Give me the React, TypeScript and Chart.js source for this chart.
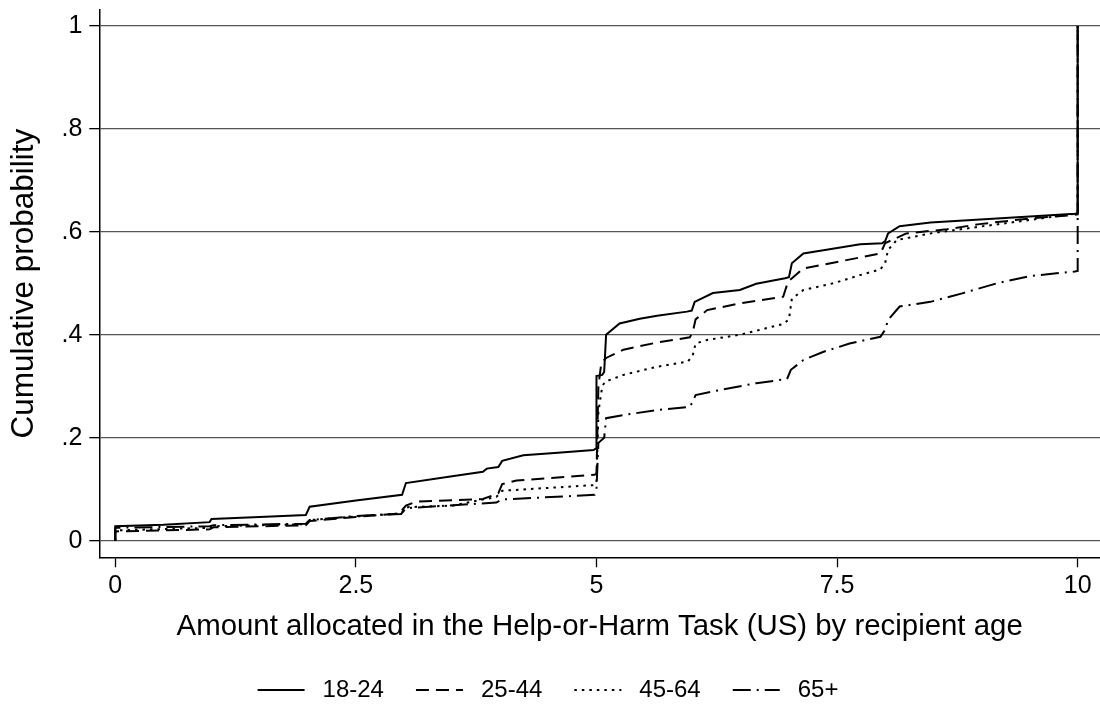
import React, { useEffect, useRef } from "react";
import { Chart, registerables } from "chart.js";

Chart.register(...registerables);

// ---------- data ----------
const seriesLabels = ["18-24", "25-44", "45-64", "65+"];

const xTicks = [0, 2.5, 5, 7.5, 10];
const xTickLabels = ["0", "2.5", "5", "7.5", "10"];
const yTicks = [0, 0.2, 0.4, 0.6, 0.8, 1];
const yTickLabels = ["0", ".2", ".4", ".6", ".8", "1"];

const xTitle = "Amount allocated in the Help-or-Harm Task (US) by recipient age";
const yTitle = "Cumulative probability";

const age18to24: [number, number][] = [
  [0, 0], [0, 0.028], [0.5, 0.031], [0.98, 0.036], [1.0, 0.042], [1.5, 0.046],
  [1.98, 0.05], [2.02, 0.066], [2.5, 0.078], [2.98, 0.089], [3.02, 0.112],
  [3.5, 0.125], [3.82, 0.134], [3.86, 0.14], [3.98, 0.143], [4.02, 0.155],
  [4.24, 0.166], [4.6, 0.171], [4.97, 0.176], [5.0, 0.18], [5.0, 0.32],
  [5.06, 0.322], [5.08, 0.328], [5.1, 0.4], [5.24, 0.422], [5.45, 0.431],
  [5.63, 0.437], [5.94, 0.445], [5.99, 0.447], [6.02, 0.464], [6.21, 0.481],
  [6.49, 0.487], [6.66, 0.499], [6.96, 0.51], [7.0, 0.512], [7.03, 0.539],
  [7.15, 0.558], [7.39, 0.565], [7.74, 0.576], [7.97, 0.578], [8.0, 0.582],
  [8.03, 0.597], [8.15, 0.611], [8.47, 0.618], [9.16, 0.626], [9.97, 0.635],
  [10, 0.636], [10, 1.0],
];

const age25to44: [number, number][] = [
  [0, 0], [0, 0.018], [0.5, 0.02], [0.98, 0.022], [1.02, 0.026], [1.5, 0.028],
  [1.98, 0.03], [2.02, 0.038], [2.5, 0.046], [2.95, 0.053], [3.02, 0.068],
  [3.13, 0.076], [3.82, 0.081], [3.98, 0.092], [4.02, 0.11], [4.17, 0.117],
  [4.98, 0.128], [5.0, 0.13], [5.02, 0.3], [5.05, 0.345], [5.1, 0.355],
  [5.28, 0.371], [5.63, 0.385], [5.97, 0.395], [6.0, 0.405], [6.03, 0.43],
  [6.15, 0.448], [6.49, 0.461], [6.94, 0.474], [6.99, 0.503], [7.15, 0.529],
  [7.46, 0.54], [7.95, 0.558], [8.0, 0.578], [8.22, 0.597], [8.64, 0.605],
  [8.98, 0.615], [9.5, 0.626], [9.97, 0.633], [10, 0.634], [10, 1.0],
];

const age45to64: [number, number][] = [
  [0, 0], [0, 0.02], [0.98, 0.025], [1.02, 0.028], [1.98, 0.032], [2.02, 0.04],
  [2.5, 0.047], [2.97, 0.053], [3.02, 0.065], [3.5, 0.068], [3.96, 0.085],
  [4.02, 0.097], [4.98, 0.108], [5.0, 0.112], [5.02, 0.25], [5.06, 0.3],
  [5.09, 0.309], [5.28, 0.322], [5.63, 0.338], [5.95, 0.348], [6.0, 0.36],
  [6.03, 0.383], [6.15, 0.39], [6.49, 0.4], [6.94, 0.421], [7.0, 0.43],
  [7.03, 0.47], [7.15, 0.487], [7.46, 0.5], [7.74, 0.516], [7.95, 0.527],
  [8.0, 0.54], [8.03, 0.565], [8.12, 0.584], [8.47, 0.597], [8.98, 0.61],
  [9.5, 0.623], [9.97, 0.635], [10, 0.636], [10, 1.0],
];

const age65plus: [number, number][] = [
  [0, 0], [0, 0.025], [0.98, 0.028], [1.02, 0.03], [1.98, 0.033], [2.02, 0.04],
  [2.5, 0.048], [2.97, 0.052], [3.02, 0.063], [3.96, 0.074], [4.02, 0.08],
  [4.98, 0.089], [5.0, 0.1], [5.02, 0.19], [5.08, 0.2], [5.1, 0.238],
  [5.28, 0.244], [5.63, 0.254], [5.97, 0.26], [6.0, 0.27], [6.03, 0.283],
  [6.32, 0.294], [6.66, 0.306], [6.98, 0.314], [7.02, 0.332], [7.15, 0.351],
  [7.36, 0.367], [7.63, 0.383], [7.95, 0.396], [8.0, 0.41], [8.03, 0.429],
  [8.15, 0.455], [8.47, 0.464], [8.81, 0.481], [9.16, 0.5], [9.5, 0.514],
  [9.97, 0.523], [10, 0.524], [10, 1.0],
];

const allSeries = [age18to24, age25to44, age45to64, age65plus];

// ---------- styles ----------
const FONT = '"Liberation Sans", Arial, Helvetica, sans-serif';
const dashStyles: number[][] = [[], [13, 7], [2.5, 5], [18, 6, 2, 6]];

const legendPlugin = {
  id: "bottomLegend",
  afterDraw(chart: any) {
    const ctx = chart.ctx as CanvasRenderingContext2D;
    ctx.save();
    ctx.font = `24px ${FONT}`;
    const lineLen = 47;
    const gapText = 18;
    const gapItem = 32;
    const items = chart.data.datasets.map((ds: any) => ({
      label: ds.label as string,
      dash: (ds.borderDash || []) as number[],
      w: ctx.measureText(ds.label).width,
    }));
    const total =
      items.reduce((s: number, it: any) => s + lineLen + gapText + it.w, 0) +
      gapItem * (items.length - 1);
    let x = 548 - total / 2;
    const y = 690;
    items.forEach((it: any) => {
      ctx.setLineDash(it.dash);
      ctx.lineWidth = 2;
      ctx.strokeStyle = "#000";
      ctx.beginPath();
      ctx.moveTo(x, y);
      ctx.lineTo(x + lineLen, y);
      ctx.stroke();
      ctx.setLineDash([]);
      ctx.fillStyle = "#000";
      ctx.textBaseline = "middle";
      ctx.textAlign = "left";
      ctx.fillText(it.label, x + lineLen + gapText, y);
      x += lineLen + gapText + it.w + gapItem;
    });
    ctx.restore();
  },
};

export default function App() {
  const ref = useRef<HTMLCanvasElement | null>(null);

  useEffect(() => {
    if (!ref.current) return;
    const chart = new Chart(ref.current, {
      type: "line",
      data: {
        datasets: allSeries.map((s, i) => ({
          label: seriesLabels[i],
          data: s.map(([x, y]) => ({ x, y })),
          borderColor: "#000",
          borderWidth: 2,
          borderDash: dashStyles[i],
          pointRadius: 0,
          tension: 0,
          fill: false,
        })),
      },
      options: {
        animation: false,
        responsive: false,
        layout: { padding: { top: 10, left: 0, right: 0, bottom: 0 } },
        plugins: {
          legend: { display: false },
          tooltip: { enabled: false },
        },
        scales: {
          x: {
            type: "linear",
            min: -0.166,
            max: 10.232,
            afterBuildTicks: (scale: any) => {
              scale.ticks = xTicks.map((v) => ({ value: v }));
            },
            afterFit: (scale: any) => {
              scale.height = 704 - 557.3;
              scale.paddingLeft = 0;
              scale.paddingRight = 0;
            },
            ticks: {
              color: "#000",
              font: { size: 25, family: FONT },
              padding: 4,
              maxRotation: 0,
              autoSkip: false,
              callback: (v: any) => {
                const i = xTicks.indexOf(Number(v));
                return i >= 0 ? xTickLabels[i] : "";
              },
            },
            grid: {
              drawOnChartArea: false,
              drawTicks: true,
              tickLength: 10,
              tickColor: "#000",
              tickWidth: 1.3,
            },
            border: { display: true, color: "#000", width: 1.5 },
            title: {
              display: true,
              text: xTitle,
              color: "#000",
              font: { size: 29.4, family: FONT },
              padding: { top: 0, bottom: 59 },
            },
          },
          y: {
            type: "linear",
            min: -0.0323,
            max: 1.031,
            afterBuildTicks: (scale: any) => {
              scale.ticks = yTicks.map((v) => ({ value: v }));
            },
            afterFit: (scale: any) => {
              scale.width = 99.3;
              scale.paddingTop = 0;
              scale.paddingBottom = 0;
            },
            ticks: {
              color: "#000",
              font: { size: 25, family: FONT },
              padding: 7,
              autoSkip: false,
              callback: (v: any) => {
                const i = yTicks.findIndex((t) => Math.abs(t - Number(v)) < 1e-9);
                return i >= 0 ? yTickLabels[i] : "";
              },
            },
            grid: {
              color: "#555",
              lineWidth: 1.3,
              drawTicks: true,
              tickLength: 10,
              tickColor: "#000",
              tickWidth: 1.3,
            },
            border: { display: true, color: "#000", width: 1.5 },
            title: {
              display: true,
              text: yTitle,
              color: "#000",
              font: { size: 31.5, family: FONT },
              padding: { top: 5, bottom: 0 },
            },
          },
        },
      },
      plugins: [legendPlugin],
    } as any);
    return () => chart.destroy();
  }, []);

  return (
    <div style={{ position: "fixed", left: 0, top: 0, width: 1100, height: 704, background: "#fff" }}>
      <canvas ref={ref} width={1100} height={704} style={{ display: "block" }} />
    </div>
  );
}
